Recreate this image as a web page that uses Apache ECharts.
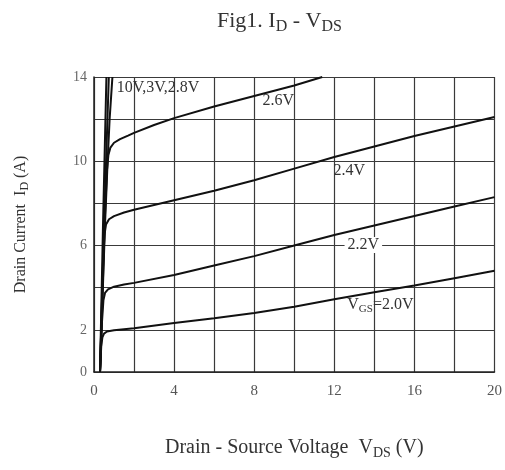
<!DOCTYPE html>
<html>
<head>
<meta charset="utf-8">
<script src="https://cdn.jsdelivr.net/npm/echarts@6/dist/echarts.min.js"></script>
<style>html,body{margin:0;padding:0;background:#fff}#c{width:505px;height:470px}</style>
</head>
<body>
<div id="c"></div>
<script>
// Drain current I_D (A) vs drain-source voltage V_DS (V), per gate voltage
var vgs10 = [[0.3,0],[0.45,7],[0.62,14]];
var vgs30 = [[0.3,0],[0.5,7],[0.74,14]];
var vgs28 = [[0.3,0],[0.55,7],[0.68,10],[0.78,12],[0.92,14]];
var vgs26 = [[0.3,0],[0.55,7.5],[0.65,9.6],[0.72,10.3],[0.82,10.65],[1,10.88],[1.3,11.05],[1.7,11.22],[2,11.35],[3,11.72],[4,12.05],[6,12.6],[8,13.1],[10,13.6],[11.4,14]];
var vgs24 = [[0.3,0],[0.45,5.0],[0.52,6.5],[0.6,7.0],[0.75,7.25],[1,7.4],[1.5,7.57],[2,7.7],[4,8.15],[6,8.6],[8,9.1],[10,9.65],[12,10.2],[14,10.7],[16,11.2],[18,11.65],[20,12.1]];
var vgs22 = [[0.3,0],[0.4,2.4],[0.47,3.4],[0.55,3.75],[0.7,3.92],[1,4.05],[1.5,4.15],[2,4.23],[4,4.6],[6,5.05],[8,5.5],[10,6.0],[12,6.5],[14,6.95],[16,7.4],[18,7.85],[20,8.3]];
var vgs20 = [[0.3,0],[0.36,1.2],[0.42,1.65],[0.5,1.82],[0.65,1.92],[1,1.98],[2,2.08],[4,2.33],[6,2.55],[8,2.8],[10,3.1],[12,3.45],[14,3.78],[16,4.1],[18,4.45],[20,4.8]];
var xTickLabels = ['0','4','8','12','16','20'];
var yTickLabels = ['0','2','6','10','14'];
// curve annotations: [text, vds, id]
var curveLabels = [
  ['10V,3V,2.8V', 3.2, 13.5],
  ['2.6V', 9.2, 12.86],
  ['2.4V', 12.75, 9.54],
  ['2.2V', 13.45, 6.03],
  ['V{sub|GS}=2.0V', 14.3, 3.2]
];

var serif = '"Liberation Serif", "DejaVu Serif", serif';
var chart = echarts.init(document.getElementById('c'), null, {renderer: 'canvas'});

function curve(name, data, labelIdx) {
  var s = {
    name: name, type: 'line', data: data, showSymbol: false, symbol: 'none',
    smooth: false,
    lineStyle: {color: '#111', width: 2}, silent: true, z: 3
  };
  if (labelIdx != null) {
    var L = curveLabels[labelIdx];
    s.markPoint = {
      symbol: 'rect', symbolSize: 0, silent: true,
      data: [{coord: [L[1], L[2]], value: 0}],
      label: {
        show: true, position: 'inside', formatter: L[0],
        fontFamily: serif, fontSize: 16, color: '#333',
        backgroundColor: labelIdx === 3 ? '#fff' : 'transparent',
        padding: labelIdx === 3 ? [0, 3] : 0,
        rich: {sub: {fontFamily: serif, fontSize: 11, color: '#333', padding: [9, 0, 0, 0]}}
      }
    };
  }
  return s;
}

var option = {
  backgroundColor: '#fff',
  animation: false,
  title: {
    text: 'Fig1. I{sub|D} - V{sub|DS}',
    left: 212, top: 3,
    textStyle: {
      fontFamily: serif, fontSize: 22, fontWeight: 'normal', color: '#333',
      rich: {sub: {fontFamily: serif, fontSize: 16, color: '#333', padding: [11, 0, 0, 0]}}
    }
  },
  grid: {left: 94, right: 5, top: 77, bottom: 98, containLabel: false},
  xAxis: {
    type: 'value', min: 0, max: 20, interval: 2,
    axisLine: {show: true, lineStyle: {color: '#222', width: 1.5}},
    axisTick: {show: false},
    axisLabel: {
      margin: 12, fontFamily: serif, fontSize: 15, color: '#555',
      formatter: function (v) { var t = String(v); return xTickLabels.indexOf(t) >= 0 ? t : ''; }
    },
    splitLine: {show: true, lineStyle: {width: 1.2, color: '#3a3a3a'}},
    name: 'Drain - Source Voltage  V{sub|DS} (V)',
    nameLocation: 'middle', nameGap: 64,
    nameTextStyle: {fontFamily: serif, fontSize: 20, color: '#333',
      rich: {sub: {fontFamily: serif, fontSize: 14, color: '#333', padding: [10, 0, 0, 0]}}}
  },
  yAxis: {
    type: 'value', min: 0, max: 14, interval: 2,
    axisLine: {show: true, lineStyle: {color: '#222', width: 1.5}},
    axisTick: {show: false},
    axisLabel: {
      margin: 7, fontFamily: serif, fontSize: 14, color: '#666',
      formatter: function (v) { var t = String(v); return yTickLabels.indexOf(t) >= 0 ? t : ''; }
    },
    splitLine: {show: true, lineStyle: {width: 1.2, color: '#3a3a3a'}},
    name: 'Drain Current  I{sub|D} (A)',
    nameLocation: 'middle', nameGap: 63, nameRotate: 90,
    nameTextStyle: {fontFamily: serif, fontSize: 16, color: '#333',
      rich: {sub: {fontFamily: serif, fontSize: 12, color: '#333', padding: [9, 0, 0, 0]}}}
  },
  series: [
    curve('10V', vgs10, 0),
    curve('3V', vgs30, null),
    curve('2.8V', vgs28, null),
    curve('2.6V', vgs26, 1),
    curve('2.4V', vgs24, 2),
    curve('2.2V', vgs22, 3),
    curve('2.0V', vgs20, 4)
  ]
};
chart.setOption(option);
</script>
</body>
</html>
